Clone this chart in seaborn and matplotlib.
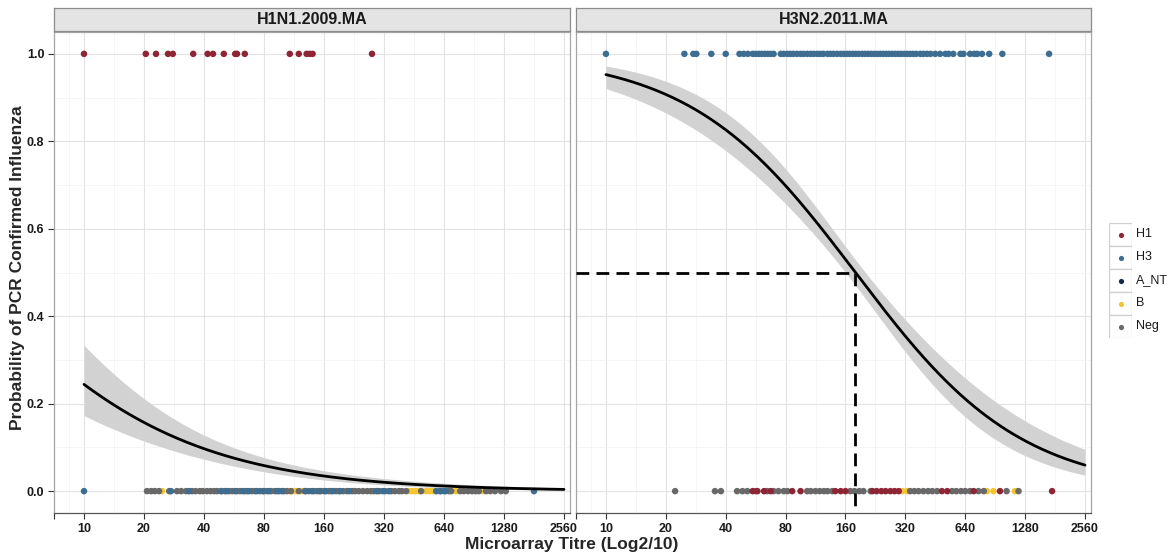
import numpy as np
import pandas as pd
import matplotlib
matplotlib.use("Agg")
import matplotlib.pyplot as plt
import seaborn as sns
from matplotlib.patches import Rectangle

sns.set_theme(style="white")
plt.rcParams['font.family'] = ['Liberation Sans', 'DejaVu Sans']

# ---------------- data ----------------
panels = ["H1N1.2009.MA", "H3N2.2011.MA"]
types = ["H1", "H3", "A_NT", "B", "Neg"]
type_colors = ["#8E2535", "#3D6E92", "#13294B", "#F5C530", "#686868"]

# x values are log2(titre/10)
tick_pos = [-0.5, 0, 1, 2, 3, 4, 5, 6, 7, 8]
tick_labels = ["", "10", "20", "40", "80", "160", "320", "640", "1280", "2560"]
y_ticks = [0.0, 0.2, 0.4, 0.6, 0.8, 1.0]

# H1N1 panel
h1n1_pos_H1 = [0.0, 1.03, 1.20, 1.40, 1.48, 1.82, 2.06, 2.15, 2.33, 2.52, 2.55,
               2.68, 3.43, 3.58, 3.71, 3.76, 3.81, 4.80]
h1n1_neg_B = [1.30, 1.75, 3.42, 3.48, 3.53, 3.63, 4.87, 5.42, 5.47, 5.53, 5.58,
              5.70, 5.76, 5.82, 5.87, 6.20, 6.63]
h1n1_neg_Neg = [1.05, 1.12, 1.18, 1.25, 1.42, 1.55, 1.62, 1.70, 1.80, 1.86, 1.93,
                1.98, 2.05, 2.11, 2.17, 2.22, 2.30, 2.35, 2.42, 2.47, 2.55, 2.60,
                2.68, 2.72, 2.80, 2.85, 2.93, 3.00, 3.05, 3.12, 3.18, 3.25, 3.33,
                3.38, 3.45, 3.58, 3.68, 3.75, 3.83, 3.88, 3.95, 4.00, 4.08, 4.12,
                4.20, 4.25, 4.32, 4.38, 4.47, 4.52, 4.58, 4.65, 4.72, 4.78, 4.83,
                4.92, 5.02, 5.12, 5.18, 5.25, 5.30, 5.37, 5.62, 5.95, 6.08, 6.12,
                6.27, 6.33, 6.40, 6.47, 6.53, 6.58, 6.70, 6.77, 6.85, 6.95, 7.03]
h1n1_neg_H3 = [0.0, 1.45, 1.75, 2.28, 2.38, 2.52, 2.65, 2.75, 2.88, 2.98, 3.08,
               3.22, 3.30, 3.70, 3.80, 3.92, 4.03, 4.15, 4.27, 4.42, 4.88, 4.98,
               5.08, 5.87, 5.93, 6.00, 6.03, 7.50]

# H3N2 panel
h3n2_pos_H3 = [0.0, 1.31, 1.46, 1.51, 1.76, 2.00, 2.23, 2.30, 2.37, 2.45, 2.50,
               2.55, 2.60, 2.65, 2.70, 2.75, 2.80, 2.92, 2.97, 3.03, 3.08, 3.13,
               3.19, 3.25, 3.30, 3.36, 3.42, 3.47, 3.53, 3.58, 3.63, 3.70, 3.75,
               3.80, 3.86, 3.92, 3.97, 4.02, 4.07, 4.12, 4.17, 4.22, 4.28, 4.33,
               4.38, 4.43, 4.48, 4.53, 4.58, 4.63, 4.68, 4.73, 4.78, 4.83, 4.88,
               4.93, 4.98, 5.03, 5.08, 5.13, 5.18, 5.25, 5.30, 5.36, 5.42, 5.50,
               5.58, 5.67, 5.72, 5.80, 5.92, 5.97, 6.08, 6.15, 6.20, 6.28, 6.40,
               6.62, 7.40]
h3n2_neg_B = [4.95, 5.03, 6.36, 6.47, 6.83]
h3n2_neg_Neg = [1.155, 1.82, 1.92, 2.19, 2.28, 2.36, 2.50, 2.69, 2.80, 2.88, 2.97,
                3.03, 3.36, 3.42, 3.50, 3.57, 3.64, 3.70, 3.78, 4.08, 4.15, 4.23,
                4.30, 4.42, 5.08, 5.15, 5.22, 5.30, 5.38, 5.45, 5.53, 5.78, 5.85,
                5.93, 6.00, 6.08, 6.22, 6.31, 6.69, 6.89]
h3n2_neg_H1 = [2.45, 2.53, 2.64, 2.75, 3.11, 3.25, 3.83, 3.92, 4.00, 4.45, 4.52,
               4.60, 4.67, 4.75, 4.82, 4.89, 5.61, 5.70, 6.14, 6.58, 7.45]

# logistic fits (logit scale)
fit_intercept = [-1.13, 3.00]
fit_slope = [-0.55, -0.72]
se_min = [0.15, 0.06]
se_center = [3.0, 4.15]
se_growth = [0.055, 0.066]
threshold = 0.5

# ---------------- assemble ----------------
rows = []
def add(panel, outcome, typ, vals):
    for v in vals:
        rows.append(dict(panel=panel, outcome=outcome, type=typ, lt=v))

add(panels[0], 1, "H1", h1n1_pos_H1)
add(panels[0], 0, "B", h1n1_neg_B)
add(panels[0], 0, "Neg", h1n1_neg_Neg)
add(panels[0], 0, "H3", h1n1_neg_H3)
add(panels[1], 1, "H3", h3n2_pos_H3)
add(panels[1], 0, "B", h3n2_neg_B)
add(panels[1], 0, "Neg", h3n2_neg_Neg)
add(panels[1], 0, "H1", h3n2_neg_H1)
df = pd.DataFrame(rows)
palette = dict(zip(types, type_colors))

W, H = 1170, 556
fig = plt.figure(figsize=(W / 100, H / 100), dpi=100)

def fx(px):
    return px / W

def fy(py):
    return 1 - py / H

panel_px = [(54, 570), (576, 1091)]
top_px, bot_px = 32, 513
xlim = (-0.5, 8.1)
ylim = (-0.05, 1.05)
tick_fs = 9

for i, (p, (x0, x1)) in enumerate(zip(panels, panel_px)):
    ax = fig.add_axes([fx(x0), fy(bot_px), fx(x1 - x0), (bot_px - top_px) / H])
    ax.set_facecolor("white")
    ax.set_xlim(*xlim)
    ax.set_ylim(*ylim)
    ax.set_xticks(tick_pos)
    ax.set_xticklabels(tick_labels, fontweight="bold", fontsize=tick_fs, color="#1a1a1a")
    ax.set_xticks([-0.25] + [k + 0.5 for k in range(0, 8)], minor=True)
    ax.set_yticks(y_ticks)
    ax.set_yticks([0.1, 0.3, 0.5, 0.7, 0.9], minor=True)
    ax.grid(True, which="major", color="#E3E3E3", lw=0.8)
    ax.grid(True, which="minor", color="#F2F2F2", lw=0.5)
    ax.set_axisbelow(True)
    ax.tick_params(axis="x", which="major", length=4, width=0.8, color="#333333", pad=3,
                   bottom=True)
    ax.tick_params(axis="x", which="minor", length=0)
    ax.tick_params(axis="y", which="minor", length=0)
    if i == 0:
        ax.set_yticklabels([f"{v:.1f}" for v in y_ticks], fontweight="bold",
                           fontsize=tick_fs, color="#1a1a1a")
        ax.tick_params(axis="y", which="major", length=4, width=0.8, color="#333333",
                       pad=3, left=True)
    else:
        ax.set_yticklabels([])
        ax.tick_params(axis="y", which="major", length=0)
    for s in ax.spines.values():
        s.set_color("#A6A6A6")
        s.set_linewidth(0.9)
    ax.spines["bottom"].set_color("#555555")

    # fitted curve and band
    u = np.linspace(0, 8, 300)
    eta = fit_intercept[i] + fit_slope[i] * u
    se = np.sqrt(se_min[i] ** 2 + (se_growth[i] * (u - se_center[i])) ** 2)
    p_fit = 1 / (1 + np.exp(-eta))
    lo = 1 / (1 + np.exp(-(eta - 1.96 * se)))
    hi = 1 / (1 + np.exp(-(eta + 1.96 * se)))
    ax.fill_between(u, lo, hi, color="#D2D2D2", lw=0, zorder=2)

    sub = df[df.panel == p]
    sns.scatterplot(data=sub, x="lt", y="outcome", hue="type", palette=palette,
                    hue_order=types, s=22, linewidth=0, legend=False, ax=ax, zorder=3)
    curve = pd.DataFrame(dict(lt=u, prob=p_fit))
    sns.lineplot(data=curve, x="lt", y="prob", color="black", lw=2.0, ax=ax, zorder=4)
    ax.set_xlabel("")
    ax.set_ylabel("")

    if i == 1:
        u50 = -fit_intercept[i] / fit_slope[i]
        ax.plot([xlim[0], u50], [threshold, threshold], color="black", lw=2.0,
                ls=(0, (4.6, 2.6)), zorder=5, solid_capstyle="butt")
        ax.plot([u50, u50], [threshold, ylim[0]], color="black", lw=2.0,
                ls=(0, (4.6, 2.6)), zorder=5)

    # strip
    sax = fig.add_axes([fx(x0), fy(31), fx(x1 - x0), 23 / H])
    sax.set_facecolor("#E4E4E4")
    sax.set_xticks([])
    sax.set_yticks([])
    for s in sax.spines.values():
        s.set_color("#8C8C8C")
        s.set_linewidth(0.9)
    sax.text(0.5, 0.48, p, ha="center", va="center", fontsize=11.5, fontweight="bold",
             color="#1a1a1a", transform=sax.transAxes)

# axis titles
fig.text(fx(18), fy(268), "Probability of PCR Confirmed Influenza",
         rotation=90, ha="center", va="center", fontsize=12.5, fontweight="bold")
fig.text(fx(572), fy(545), "Microarray Titre (Log2/10)", ha="center", va="center",
         fontsize=12.5, fontweight="bold")

# legend
lx0, ly0, key = 1109, 223, 23
lax = fig.add_axes([fx(lx0), fy(ly0 + key * len(types)), fx(key), key * len(types) / H])
lax.set_xlim(0, 1)
lax.set_ylim(len(types), 0)
lax.axis("off")
for k, (t, c) in enumerate(zip(types, type_colors)):
    lax.add_patch(Rectangle((0, k), 1, 1, facecolor="white", edgecolor="#CFCFCF",
                            lw=0.9))
    lax.scatter([0.5], [k + 0.5], s=14, color=c, linewidth=0, zorder=3)
    fig.text(fx(lx0 + key + 4), fy(ly0 + key * k + key / 2), t, ha="left",
             va="center", fontsize=9, color="#1a1a1a")

fig.savefig("out.png", dpi=100)
